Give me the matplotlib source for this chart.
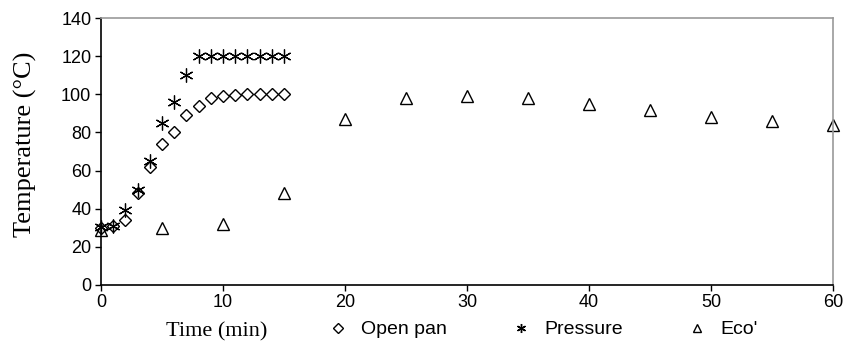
import matplotlib.pyplot as plt
from matplotlib.lines import Line2D

# time (min) and temperature (°C)
t_pan = [0, 1, 2, 3, 4, 5, 6, 7, 8, 9, 10, 11, 12, 13, 14, 15]
open_pan = [30, 31, 34, 48, 62, 74, 80, 89, 94, 98, 99, 99.5, 100, 100, 100, 100]

t_pressure = [0, 1, 2, 3, 4, 5, 6, 7, 8, 9, 10, 11, 12, 13, 14, 15]
pressure = [30.5, 31, 39, 50, 65, 85, 96, 110, 120, 120, 120, 120, 120, 120, 120, 120]

t_eco = [0, 5, 10, 15, 20, 25, 30, 35, 40, 45, 50, 55, 60]
eco = [29, 30, 32, 48, 87, 98, 99, 98, 95, 92, 88, 86, 84]

fig = plt.figure(figsize=(8.54, 3.47), dpi=100)
ax = fig.add_axes([0.1183, 0.1795, 0.857, 0.768])

star = (6, 2, 0)  # six-armed asterisk
ax.plot(t_pan, open_pan, linestyle='none', marker='D', markersize=6.5,
        markerfacecolor='none', markeredgecolor='black', markeredgewidth=1.0, clip_on=False)
ax.plot(t_pressure, pressure, linestyle='none', marker=star, markersize=10,
        markeredgecolor='black', markeredgewidth=0.9, clip_on=False)
ax.plot(t_eco, eco, linestyle='none', marker='^', markersize=8,
        markerfacecolor='none', markeredgecolor='black', markeredgewidth=1.0, clip_on=False)

ax.set_xlim(0, 60)
ax.set_ylim(0, 140)
ax.set_xticks(range(0, 61, 10))
ax.set_yticks(range(0, 141, 20))
ax.tick_params(direction='out', length=4, width=1, labelsize=13, color='black', pad=3)
for lbl in ax.get_xticklabels() + ax.get_yticklabels():
    lbl.set_fontfamily('Liberation Sans')

ax.spines['left'].set_color('black')
ax.spines['bottom'].set_color('black')
ax.spines['top'].set_color('#999999')
ax.spines['right'].set_color('#999999')
for s in ax.spines.values():
    s.set_linewidth(1.2)

fig.text(0.030, 0.585, 'Temperature (°C)', fontsize=19, family='Liberation Serif',
         rotation=90, ha='center', va='center')
fig.text(0.254, 0.045, 'Time (min)', fontsize=16, family='Liberation Serif',
         ha='center', va='center')

handles = [
    Line2D([], [], linestyle='none', marker='D', markersize=5, markerfacecolor='none',
           markeredgecolor='black', label='Open pan'),
    Line2D([], [], linestyle='none', marker=star, markersize=6.5, markeredgecolor='black',
           markeredgewidth=1.0, label='Pressure'),
    Line2D([], [], linestyle='none', marker='^', markersize=6, markerfacecolor='none',
           markeredgecolor='black', label="Eco'"),
]
fig.legend(handles=handles, loc='center left', bbox_to_anchor=(0.364, 0.050), ncol=3,
           frameon=False, prop={'family': 'Liberation Sans', 'size': 14},
           columnspacing=3.3, handletextpad=0.7, handlelength=1.0)

fig.savefig('out.png', dpi=100)
